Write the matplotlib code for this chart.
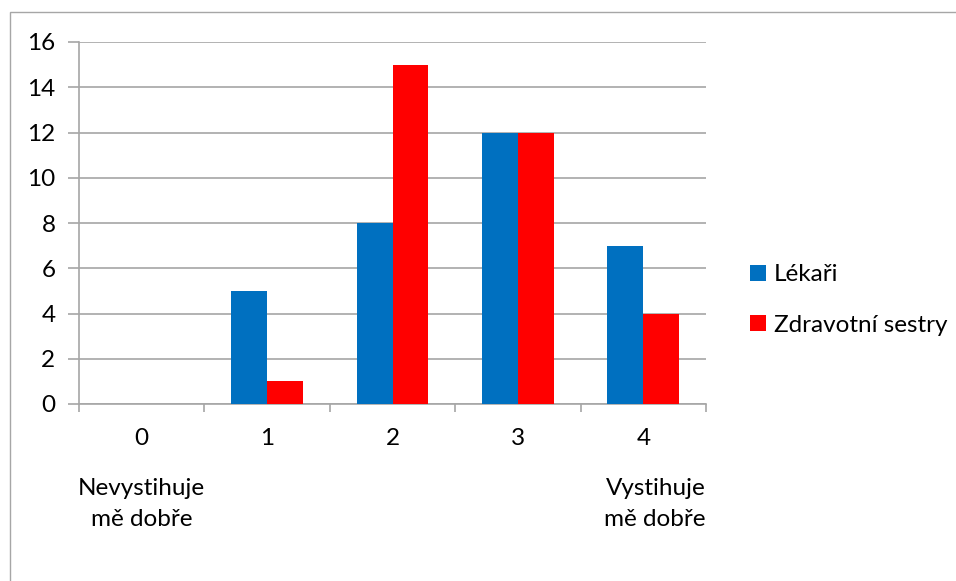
import numpy as np
import matplotlib.pyplot as plt
from matplotlib.patches import Rectangle

# hodnocení 0..4, počty odpovědí
kategorie = ['0', '1', '2', '3', '4']
lekari = [0, 5, 8, 12, 7]
sestry = [0, 1, 15, 12, 4]
nazvy = ['Lékaři', 'Zdravotní sestry']
barvy = ['#0070C0', '#FF0000']

plt.rcParams['font.family'] = ['Lato', 'DejaVu Sans']
fs = 17.5

W, H = 956, 581
fig = plt.figure(figsize=(W / 100, H / 100), dpi=100)
# rámeček grafu (přesahuje vpravo a dole)
fig.patches.append(Rectangle((10 / W, -0.1), 1.2, 1.1 - 12 / H, transform=fig.transFigure,
                             fill=False, edgecolor='#A6A6A6', linewidth=1.0))

ax = fig.add_axes([79 / W, 1 - 404 / H, (706 - 79) / W, (404 - 42) / H])
x = np.arange(len(kategorie))
w = 0.287
ax.bar(x - w / 2, lekari, w, color=barvy[0], label=nazvy[0], zorder=3)
ax.bar(x + w / 2, sestry, w, color=barvy[1], label=nazvy[1], zorder=3)

ax.set_xlim(-0.5, 4.5)
ax.set_ylim(0, 16)
ax.set_yticks(range(0, 17, 2))
ax.yaxis.grid(True, color='#A6A6A6', linewidth=1.2, zorder=0)
ax.tick_params(axis='y', length=8, width=1.2, color='#A6A6A6', labelsize=fs, pad=9)
ax.set_xticks(x)
ax.set_xticklabels(kategorie, fontsize=fs)
ax.tick_params(axis='x', length=0, pad=17)
ax.set_xticks(np.arange(-0.5, 5, 1), minor=True)
ax.tick_params(axis='x', which='minor', length=6, width=1.2, color='#A6A6A6', direction='out')
for s in ['top', 'right']:
    ax.spines[s].set_visible(False)
for s in ['left', 'bottom']:
    ax.spines[s].set_color('#A6A6A6')
    ax.spines[s].set_linewidth(1.2)

ax.text(0, -0.205, 'Nevystihuje\nmě dobře', transform=ax.get_xaxis_transform(),
        ha='center', va='top', fontsize=fs, linespacing=1.6)
ax.text(4.5, -0.205, 'Vystihuje\nmě dobře', transform=ax.get_xaxis_transform(),
        ha='right', va='top', fontsize=fs, linespacing=1.6)

ax.legend(loc='center left', bbox_to_anchor=(728 / W, 1 - 300 / H), bbox_transform=fig.transFigure,
          frameon=False, fontsize=fs, handlelength=0.65, handleheight=0.65, handletextpad=0.35,
          labelspacing=1.2)

fig.savefig('out.png', dpi=100)
